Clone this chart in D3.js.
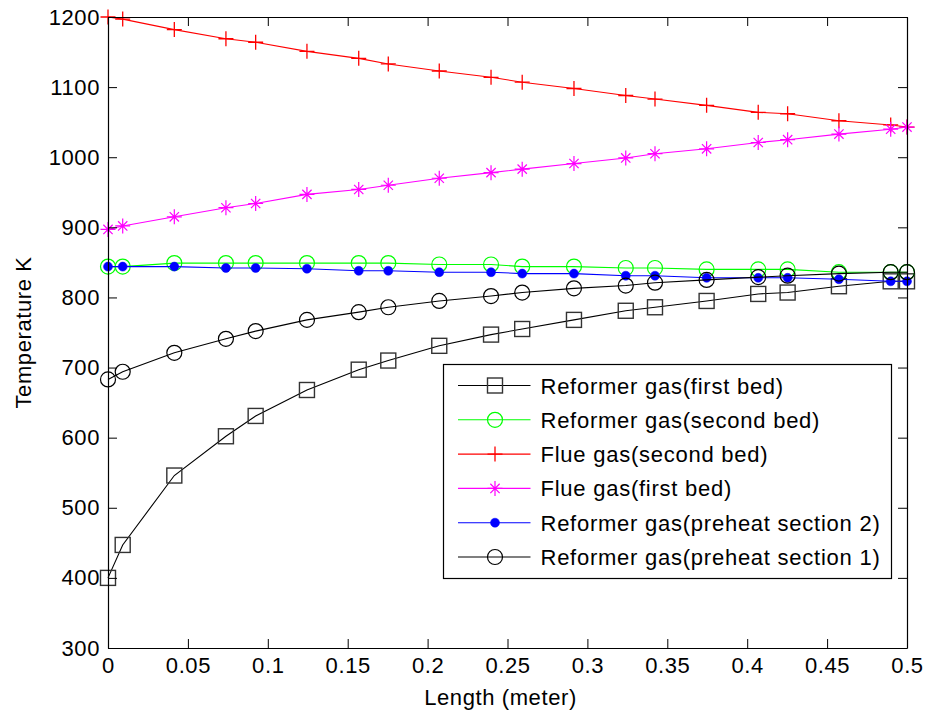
<!DOCTYPE html>
<html>
<head>
<meta charset="utf-8">
<script src="https://cdn.jsdelivr.net/npm/d3@7"></script>
<style>
  html, body { margin: 0; padding: 0; background: #fff; }
  svg { display: block; font-family: "Liberation Sans", Arial, Helvetica, sans-serif; }
  svg text { letter-spacing: 0.6px; }
</style>
</head>
<body>
<svg id="chart" width="927" height="717"></svg>
<script>
// Position along the reactor (m)
const lengthM = [0, 0.0092, 0.0415, 0.0738, 0.0924, 0.1245, 0.1569, 0.1754, 0.2073, 0.2397,
                 0.2592, 0.2916, 0.324, 0.3423, 0.3746, 0.4069, 0.4253, 0.4574, 0.4898, 0.5];

// Temperatures (K)
const reformerFirstBed  = [400, 447, 546, 602, 631, 668, 697, 710, 731, 747,
                           755, 768, 781, 786, 795, 805, 807, 816, 823, 823];
const reformerSecondBed = [844, 844, 849, 849, 849, 849, 849, 849, 847, 847,
                           844, 844, 842, 842, 840, 840, 840, 836, 836, 836];
const flueSecondBed     = [1200, 1197, 1182, 1169, 1164, 1151, 1141, 1133, 1123, 1114,
                           1107, 1098, 1088, 1083, 1074, 1064, 1062, 1052, 1046, 1043];
const flueFirstBed      = [897, 902, 915, 928, 934, 947, 954, 960, 970, 978,
                           983, 991, 999, 1005, 1012, 1021, 1025, 1033, 1040, 1043];
const preheatSection2   = [844, 844, 844, 842, 842, 841, 838, 838, 836, 836,
                           834, 834, 831, 831, 828, 828, 828, 826, 823, 823];
const preheatSection1   = [683, 694, 721, 741, 752, 768, 779, 786, 795, 802,
                           807, 813, 817, 821, 825, 829, 831, 834, 836, 836];

const seriesNames = [
  "Reformer gas(first bed)",
  "Reformer gas(second bed)",
  "Flue gas(second bed)",
  "Flue gas(first bed)",
  "Reformer gas(preheat section 2)",
  "Reformer gas(preheat section 1)"
];

const xTickValues = [0, 0.05, 0.1, 0.15, 0.2, 0.25, 0.3, 0.35, 0.4, 0.45, 0.5];
const xTickLabels = ["0", "0.05", "0.1", "0.15", "0.2", "0.25", "0.3", "0.35", "0.4", "0.45", "0.5"];
const yTickValues = [300, 400, 500, 600, 700, 800, 900, 1000, 1100, 1200];
const yTickLabels = ["300", "400", "500", "600", "700", "800", "900", "1000", "1100", "1200"];

const xTitle = "Length (meter)";
const yTitle = "Temperature K";

// ---- layout ----
const W = 927, H = 717;
const margin = { top: 17, right: 20, bottom: 69, left: 108 };
const iw = W - margin.left - margin.right;
const ih = H - margin.top - margin.bottom;
const FONT = 22;

const svg = d3.select("#chart");
const g = svg.append("g").attr("transform", `translate(${margin.left},${margin.top})`);

const x = d3.scaleLinear().domain([0, 0.5]).range([0, iw]);
const y = d3.scaleLinear().domain([300, 1200]).range([ih, 0]);

// series styles
const styles = [
  { color: "#000000", marker: "square",   values: reformerFirstBed },
  { color: "#00ff00", marker: "circle",   values: reformerSecondBed },
  { color: "#ff0000", marker: "plus",     values: flueSecondBed },
  { color: "#ff00ff", marker: "asterisk", values: flueFirstBed },
  { color: "#0000ff", marker: "dot",      values: preheatSection2 },
  { color: "#000000", marker: "circle",   values: preheatSection1 }
];

function drawMarker(sel, type, color) {
  const s = 7.5;
  if (type === "square") {
    sel.append("rect").attr("x", -s).attr("y", -s).attr("width", 2 * s).attr("height", 2 * s)
      .attr("fill", "none").attr("stroke", "#333").attr("stroke-width", 1.4);
  } else if (type === "circle") {
    sel.append("circle").attr("r", s).attr("fill", "none").attr("stroke", color).attr("stroke-width", 1.2);
  } else if (type === "dot") {
    sel.append("circle").attr("r", 4.5).attr("fill", color).attr("stroke", color).attr("stroke-width", 0.5);
  } else if (type === "plus") {
    sel.append("path").attr("d", `M0,${-s}V${s}M${-s},0H${s}`)
      .attr("stroke", color).attr("stroke-width", 1.3).attr("fill", "none");
  } else if (type === "asterisk") {
    const d = s * 0.62;
    sel.append("path")
      .attr("d", `M0,${-s}V${s}M${-s},0H${s}M${-d},${-d}L${d},${d}M${-d},${d}L${d},${-d}`)
      .attr("stroke", color).attr("stroke-width", 1.2).attr("fill", "none");
  }
}

const line = d3.line().x(d => x(d[0])).y(d => y(d[1]));

// ---- data ----
styles.forEach(st => {
  const pts = lengthM.map((xv, i) => [xv, st.values[i]]);
  g.append("path").datum(pts).attr("d", line)
    .attr("fill", "none").attr("stroke", st.color).attr("stroke-width", 1.1);
  g.selectAll(null).data(pts).enter().append("g")
    .attr("transform", d => `translate(${x(d[0])},${y(d[1])})`)
    .each(function () { drawMarker(d3.select(this), st.marker, st.color); });
});

// ---- axes ----
const tick = 9;
const xAxis = d3.axisBottom(x).tickValues(xTickValues)
  .tickFormat((d, i) => xTickLabels[i]).tickSizeInner(-tick).tickSizeOuter(0).tickPadding(9.5);
const yAxis = d3.axisLeft(y).tickValues(yTickValues)
  .tickFormat((d, i) => yTickLabels[i]).tickSizeInner(-tick).tickSizeOuter(0).tickPadding(8);
const xTop = d3.axisTop(x).tickValues(xTickValues).tickFormat("").tickSizeInner(-tick).tickSizeOuter(0);
const yRight = d3.axisRight(y).tickValues(yTickValues).tickFormat("").tickSizeInner(-tick).tickSizeOuter(0);

function styleAxis(a) {
  a.select(".domain").attr("stroke", "#000").attr("stroke-width", 1.2);
  a.selectAll(".tick line").attr("stroke", "#000").attr("stroke-width", 1);
  a.selectAll(".tick text").attr("fill", "#000").style("font-size", FONT + "px")
    .style("font-family", "'Liberation Sans', Arial, sans-serif");
}

styleAxis(g.append("g").attr("transform", `translate(0,${ih})`).call(xAxis));
styleAxis(g.append("g").call(yAxis));
styleAxis(g.append("g").call(xTop));
styleAxis(g.append("g").attr("transform", `translate(${iw},0)`).call(yRight));

// ---- titles ----
svg.append("text").attr("x", margin.left + iw / 2 - 7).attr("y", 705)
  .attr("text-anchor", "middle").style("font-size", FONT + "px").text(xTitle);
svg.append("text").attr("transform", `translate(31,${margin.top + ih / 2}) rotate(-90)`)
  .attr("text-anchor", "middle").style("font-size", FONT + "px").text(yTitle);

// ---- legend ----
const legend = svg.append("g").attr("transform", "translate(443.5,364.5)");
legend.append("rect").attr("width", 448).attr("height", 214)
  .attr("fill", "#fff").attr("stroke", "#000").attr("stroke-width", 1.2);
const rowH = 34.3;
styles.forEach((st, i) => {
  const cy = 21 + i * rowH;
  const row = legend.append("g").attr("transform", `translate(0,${cy})`);
  row.append("line").attr("x1", 14.5).attr("x2", 87).attr("y1", 0).attr("y2", 0)
    .attr("stroke", st.color).attr("stroke-width", 1.1);
  const m = row.append("g").attr("transform", "translate(51.5,0)");
  drawMarker(m, st.marker, st.color);
  row.append("text").attr("x", 97).attr("y", 8).style("font-size", FONT + "px")
    .style("letter-spacing", "0.75px").text(seriesNames[i]);
});
</script>
</body>
</html>
